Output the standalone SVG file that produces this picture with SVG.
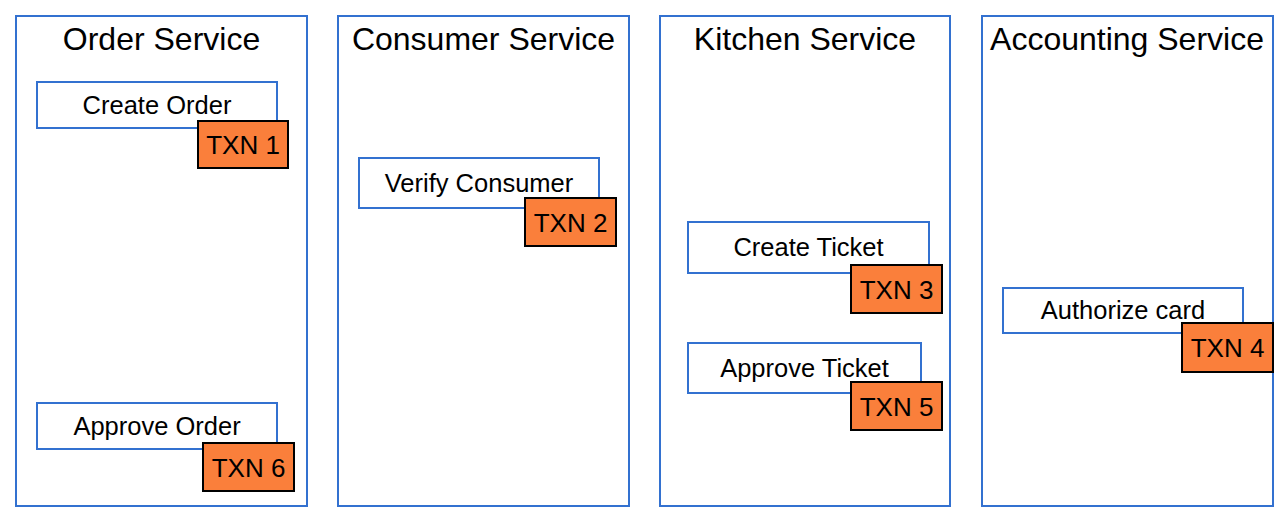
<svg xmlns="http://www.w3.org/2000/svg" width="1287" height="514" viewBox="0 0 1287 514">
<style>
.svc{fill:#fff;stroke:#3371d0;stroke-width:2}
.step{fill:#fff;stroke:#3371d0;stroke-width:2}
.txn{fill:#fa7f3b;stroke:#000;stroke-width:2}
.title{font-family:"Liberation Sans",Arial,sans-serif;font-size:32px;fill:#000;text-anchor:middle}
.lbl{font-family:"Liberation Sans",Arial,sans-serif;font-size:25.5px;fill:#000;text-anchor:middle}
.tx{font-family:"Liberation Sans",Arial,sans-serif;font-size:26px;fill:#000;text-anchor:middle}
</style>
<rect width="1287" height="514" fill="#fff"/>
<g id="order-service">
<rect class="svc" x="16" y="16" width="291" height="490"/>
<text class="title" x="161.5" y="50">Order Service</text>
</g>
<g id="consumer-service">
<rect class="svc" x="338" y="16" width="291" height="490"/>
<text class="title" x="483.5" y="50">Consumer Service</text>
</g>
<g id="kitchen-service">
<rect class="svc" x="660" y="16" width="290" height="490"/>
<text class="title" x="805" y="50">Kitchen Service</text>
</g>
<g id="accounting-service">
<rect class="svc" x="982" y="16" width="291" height="490"/>
<text class="title" x="1127" y="50">Accounting Service</text>
</g>
<g id="create-order">
<rect class="step" x="37" y="82" width="240" height="46"/>
<text class="lbl" x="157" y="114">Create Order</text>
</g>
<g id="txn1">
<rect class="txn" x="198" y="121" width="90" height="47"/>
<text class="tx" x="243" y="154">TXN 1</text>
</g>
<g id="approve-order">
<rect class="step" x="37" y="403" width="240" height="46"/>
<text class="lbl" x="157" y="435">Approve Order</text>
</g>
<g id="txn6">
<rect class="txn" x="203" y="443" width="91" height="48"/>
<text class="tx" x="248.5" y="477">TXN 6</text>
</g>
<g id="verify-consumer">
<rect class="step" x="359" y="158" width="240" height="50"/>
<text class="lbl" x="479" y="192">Verify Consumer</text>
</g>
<g id="txn2">
<rect class="txn" x="525" y="198" width="91" height="48"/>
<text class="tx" x="570.5" y="232">TXN 2</text>
</g>
<g id="create-ticket">
<rect class="step" x="688" y="222" width="241" height="51"/>
<text class="lbl" x="808.5" y="256">Create Ticket</text>
</g>
<g id="txn3">
<rect class="txn" x="851" y="265" width="91" height="48"/>
<text class="tx" x="896.5" y="299">TXN 3</text>
</g>
<g id="approve-ticket">
<rect class="step" x="688" y="343" width="233" height="50"/>
<text class="lbl" x="804.5" y="377">Approve Ticket</text>
</g>
<g id="txn5">
<rect class="txn" x="851" y="382" width="91" height="48"/>
<text class="tx" x="896.5" y="416">TXN 5</text>
</g>
<g id="authorize-card">
<rect class="step" x="1003" y="288" width="240" height="45"/>
<text class="lbl" x="1123" y="319">Authorize card</text>
</g>
<g id="txn4">
<rect class="txn" x="1182" y="323" width="91" height="49"/>
<text class="tx" x="1227.5" y="357">TXN 4</text>
</g>
<g id="connectors"></g>
</svg>
